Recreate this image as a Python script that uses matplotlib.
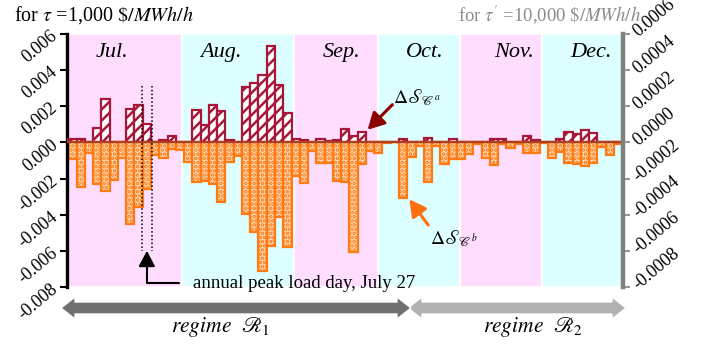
import numpy as np
import matplotlib
matplotlib.use('Agg')
import matplotlib.pyplot as plt
from matplotlib.patches import Polygon

plt.rcParams['font.family'] = 'serif'
plt.rcParams['font.serif'] = ['Liberation Serif', 'DejaVu Serif']
plt.rcParams['mathtext.fontset'] = 'stix'
plt.rcParams['hatch.linewidth'] = 1.8

# дані: зміна для C^a (позитивні) та C^b (негативні), по одному стовпчику на день
delta_a = [0.0002, 0.0002, 0.0, 0.0008, 0.0024, 0.00005, 0.0, 0.00187, 0.00206, 0.00103,
           0.0, 0.00012, 0.00036, 0.0,
           0.0, 0.00182, 0.00094, 0.00209, 0.00172, 0.00013, 0.0, 0.00305, 0.00329, 0.00375,
           0.00534, 0.00316, 0.00164,
           0.0002, 0.00013, 0.0, 0.00017, 0.0001, 0.00015, 0.00075, 0.00035, 0.00059, 0.0, 0.0,
           0.00003, 0.00005, 0.00017, 0.0, 0.0, 0.00022, 0.0, 0.0, 0.00017, 0.0, 0.0, 0.0, 0.0,
           0.0002, 0.0002, 0.0, 0.0, 0.00035, 0.00015, 0.0, 0.0, 0.00017, 0.00057, 0.00044,
           0.00068, 0.00053, 0.0, 0.0, 0.0]
delta_b = [-0.0009, -0.00245, -0.00057, -0.0023, -0.00268, -0.00207, -0.00084, -0.0045,
           -0.00355, -0.00257, -0.00072, -0.00084, -0.00035, -0.00042,
           -0.0011, -0.00219, -0.00211, -0.00231, -0.00327, -0.0011, -0.00075, -0.00397,
           -0.00494, -0.00709, -0.00575, -0.00415, -0.0058,
           -0.00186, -0.00226, -0.00048, -0.00116, -0.00112, -0.00213, -0.00219, -0.00608,
           -0.00121, -0.00048, -0.00057,
           -0.00002, 0.0, -0.00305, -0.00079, -0.0002, -0.00217, -0.00017, -0.00121, -0.00094,
           -0.00094, -0.00066, -0.0001, -0.00084, -0.00127,
           -0.0001, -0.00029, -0.0001, -0.0006, -0.0006, -0.00005, -0.00084, -0.00055, -0.00114,
           -0.00121, -0.0013, -0.00112, -0.00025, -0.00072, -0.0001]

months = ['Jul.', 'Aug.', 'Sep.', 'Oct.', 'Nov.', 'Dec.']
month_start = [-0.7, 13.2, 26.85, 37.0, 46.9, 56.8, 66.6]
month_label_x = [4.8, 18.0, 32.5, 42.6, 53.4, 62.7]
peak_day = 9

left_ticks = [-0.008, -0.006, -0.004, -0.002, 0.0, 0.002, 0.004, 0.006]
right_ticks = [-0.0008, -0.0006, -0.0004, -0.0002, 0.0, 0.0002, 0.0004, 0.0006]

W, H = 710, 349
fig = plt.figure(figsize=(W / 100, H / 100), dpi=100)
ax = fig.add_axes([66.7 / W, 1 - 287 / H, (623 - 66.7) / W, (287 - 34) / H])

x = np.arange(len(delta_a))

# фонові смуги місяців
band_colors = ['#FFDDFF', '#DDFFFF']
for k, m in enumerate(months):
    ax.axvspan(month_start[k], month_start[k + 1], color=band_colors[k % 2], ec='white', lw=1.2, zorder=0)
    ax.text(month_label_x[k], 0.00495, m, ha='center', va='center', fontsize=16, style='italic')

ax.bar(x, delta_b, width=1.0, facecolor='#FDD5AE', edgecolor='#FF7A12', hatch='....', lw=1.6, zorder=2)
ax.bar(x, delta_a, width=1.0, facecolor='white', edgecolor='#A8173A', hatch='///', lw=1.6, zorder=3)
ax.axhline(0, color='#B0401C', lw=1.6, zorder=4)

ax.set_xlim(-0.7, 66.6)
ax.set_ylim(-0.008, 0.006)

# день пікового навантаження
for xv in (peak_day - 0.6, peak_day + 0.6):
    ax.plot([xv, xv], [0.0031, -0.006], color='black', ls=(0, (1, 1.5)), lw=1.1, zorder=5)
ax.annotate('annual peak load day, July 27', xy=(peak_day, -0.006), xytext=(14.6, -0.0078),
            fontsize=13.5, va='center', ha='left',
            arrowprops=dict(arrowstyle='-|>,head_length=0.47,head_width=0.25', mutation_scale=20,
                            color='black', lw=1.5, shrinkA=8, shrinkB=0,
                            connectionstyle='angle,angleA=0,angleB=90,rad=0'), zorder=6)

# підписи ΔS зі стрілками
ax.text(38.8, 0.0025, r'$\Delta\mathscr{S}_{\mathscr{C}^a}$', fontsize=14, ha='left', va='center', zorder=6)
ax.annotate('', xy=(35.7, 0.0007), xytext=(38.7, 0.00209),
            arrowprops=dict(arrowstyle='-|>,head_length=0.5,head_width=0.27', mutation_scale=20,
                            color='#8B0000', lw=2.2, shrinkA=0, shrinkB=0), zorder=6)
ax.text(43.3, -0.0053, r'$\Delta\mathscr{S}_{\mathscr{C}^b}$', fontsize=14, ha='left', va='center', zorder=6)
ax.annotate('', xy=(40.75, -0.00315), xytext=(43.05, -0.00458),
            arrowprops=dict(arrowstyle='-|>,head_length=0.5,head_width=0.27', mutation_scale=20,
                            color='#FF7010', lw=2.2, shrinkA=0, shrinkB=0), zorder=6)

# ліва вісь
for s in ['top', 'bottom', 'right']:
    ax.spines[s].set_visible(False)
ax.spines['left'].set_linewidth(2.4)
ax.set_xticks([])
ax.set_yticks(left_ticks)
ax.set_yticklabels(['%.3f' % v for v in left_ticks], rotation=40, ha='right', va='center',
                   rotation_mode='anchor', fontsize=13)
ax.tick_params(axis='y', direction='out', length=5, width=1.5, pad=3)

# права вісь для tau'
ax2 = ax.twinx()
ax2.set_ylim(-0.0008, 0.0006)
for s in ['top', 'bottom', 'left']:
    ax2.spines[s].set_visible(False)
ax2.spines['right'].set_linewidth(3.2)
ax2.spines['right'].set_color('#808080')
ax2.set_yticks(right_ticks)
ax2.set_yticklabels(['%.4f' % v for v in right_ticks], rotation=40, ha='left', va='center',
                    rotation_mode='anchor', fontsize=13)
ax2.tick_params(axis='y', direction='out', length=5, width=1.2, color='#808080', pad=4)

fig.text(14 / W, 1 - 15 / H, r'for $\tau$ =1,000 $\$/MWh/h$', fontsize=14.5, ha='left', va='center')
fig.text(641 / W, 1 - 15 / H, r"for $\tau^{\prime}$ =10,000 $\$/MWh/h$", fontsize=13.5, ha='right',
         va='center', color='#8C8C8C')

# стрілки режимів
def double_arrow(x0, x1, y, color):
    hl, hw, sw = 14, 11, 6
    pts = [(x0, y), (x0 + hl, y - hw), (x0 + hl, y - sw), (x1 - hl, y - sw), (x1 - hl, y - hw),
           (x1, y), (x1 - hl, y + hw), (x1 - hl, y + sw), (x0 + hl, y + sw), (x0 + hl, y + hw)]
    pts = [(px / W, 1 - py / H) for px, py in pts]
    fig.patches.append(Polygon(pts, closed=True, transform=fig.transFigure,
                               facecolor=color, edgecolor='white', lw=1))

double_arrow(408, 626, 308, '#B0B0B0')
double_arrow(61, 411, 308, '#707070')

fig.text(220 / W, 1 - 327 / H, r'$regime\ \ \mathscr{R}_1$', fontsize=15.5, ha='center', va='center')
fig.text(533 / W, 1 - 327 / H, r'$regime\ \ \mathscr{R}_2$', fontsize=15.5, ha='center', va='center')

fig.savefig('out.png', dpi=100)
